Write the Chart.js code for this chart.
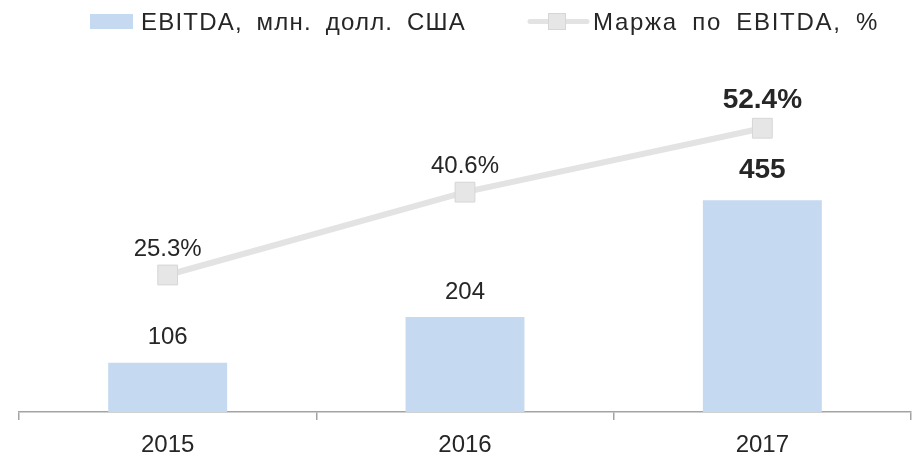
<!DOCTYPE html>
<html>
<head>
<meta charset="utf-8">
<script src="https://cdn.jsdelivr.net/npm/chart.js@4.4.1/dist/chart.umd.min.js"></script>
<style>
 html, body { margin: 0; padding: 0; background: #fff; }
</style>
</head>
<body>
<canvas id="myChart" width="915" height="456"></canvas>
<script>
 // data
 var years = ["2015", "2016", "2017"];
 var ebitda = [106, 204, 455];
 var margin = [25.3, 40.6, 52.4];
 var ebitdaLabels = ["106", "204", "455"];
 var marginLabels = ["25.3%", "40.6%", "52.4%"];
 var boldLabel = [false, false, true];
 var seriesNames = ["EBITDA, млн. долл. США", "Маржа по EBITDA, %"];

 var FONT = '"Liberation Sans", Arial, sans-serif';
 var TEXT = "#262626";
 var BAR = "#C5D9F1";
 var LINE = "#E3E3E3";
 var MARK = "#E6E6E6";
 var MARK_EDGE = "#D6D6D6";

 function text(ctx, s, x, yMid, size, bold) {
 ctx.font = (bold ? "bold " : "") + size + "px " + FONT;
 ctx.textAlign = "center";
 ctx.textBaseline = "alphabetic";
 ctx.fillStyle = TEXT;
 ctx.fillText(s, x, yMid + size * 0.36);
 }

 // value labels above bars and points
 var labelPlugin = {
 id: "labels",
 afterDatasetsDraw: function(chart) {
 var ctx = chart.ctx;
 ctx.save();
 var bars = chart.getDatasetMeta(0).data;
 bars.forEach(function(b, i) {
 var bold = boldLabel[i];
 text(ctx, ebitdaLabels[i], b.x, b.y - (bold ? 32 : 27), bold ? 28 : 24, bold);
 });
 var pts = chart.getDatasetMeta(1).data;
 pts.forEach(function(p, i) {
 var bold = boldLabel[i];
 text(ctx, marginLabels[i], p.x, p.y - (bold ? 30 : 28), bold ? 28 : 24, bold);
 });
 ctx.restore();
 }
 };

 // legend drawn by hand: wide box for bars, line with square for margin
 var legendPlugin = {
 id: "myLegend",
 afterDraw: function(chart) {
 var ctx = chart.ctx;
 ctx.save();
 ctx.fillStyle = BAR;
 ctx.fillRect(90, 14, 43, 15);

 ctx.strokeStyle = LINE;
 ctx.lineWidth = 5;
 ctx.lineCap = "round";
 ctx.beginPath();
 ctx.moveTo(530, 21.5);
 ctx.lineTo(587, 21.5);
 ctx.stroke();
 ctx.fillStyle = MARK;
 ctx.fillRect(548, 13, 18, 17);
 ctx.strokeStyle = MARK_EDGE;
 ctx.lineWidth = 1;
 ctx.strokeRect(548.5, 13.5, 17, 16);

 ctx.font = "24px " + FONT;
 ctx.wordSpacing = "6px";
 ctx.fillStyle = TEXT;
 ctx.textAlign = "left";
 ctx.textBaseline = "alphabetic";
 ctx.letterSpacing = "1.2px";
 ctx.fillText(seriesNames[0], 141, 30);
 ctx.letterSpacing = "1.7px";
 ctx.fillText(seriesNames[1], 593, 30);
 ctx.restore();
 }
 };

 new Chart("myChart", {
 data: {
 labels: years,
 datasets: [
 {
 type: "bar",
 label: seriesNames[0],
 data: ebitda,
 backgroundColor: BAR,
 borderWidth: 0,
 barPercentage: 0.4,
 categoryPercentage: 1,
 yAxisID: "y",
 order: 2
 },
 {
 type: "line",
 label: seriesNames[1],
 data: margin,
 borderColor: LINE,
 borderWidth: 6,
 pointStyle: "rect",
 pointRadius: 14,
 pointBackgroundColor: MARK,
 pointBorderColor: MARK_EDGE,
 pointBorderWidth: 1,
 yAxisID: "y2",
 order: 1
 }
 ]
 },
 options: {
 responsive: false,
 animation: false,
 layout: { autoPadding: false, padding: { top: 60, left: 19, right: 4, bottom: 0 } },
 plugins: {
 legend: { display: false },
 tooltip: { enabled: false }
 },
 scales: {
 x: {
 offset: true,
 grid: {
 offset: true,
 drawOnChartArea: false,
 drawTicks: true,
 tickLength: 8,
 color: "#A3A3A3",
 lineWidth: 1.5
 },
 border: { display: true, color: "#A3A3A3", width: 1.5 },
 ticks: {
 color: TEXT,
 padding: 11,
 font: { family: FONT, size: 24 }
 },
 afterFit: function(s) {
 s.height = 44;
 s.paddingLeft = 0;
 s.paddingRight = 0;
 }
 },
 y: { display: false, min: 0, max: 756 },
 y2: { display: false, min: 0, max: 65, position: "right" }
 }
 },
 plugins: [labelPlugin, legendPlugin]
 });
</script>
</body>
</html>
